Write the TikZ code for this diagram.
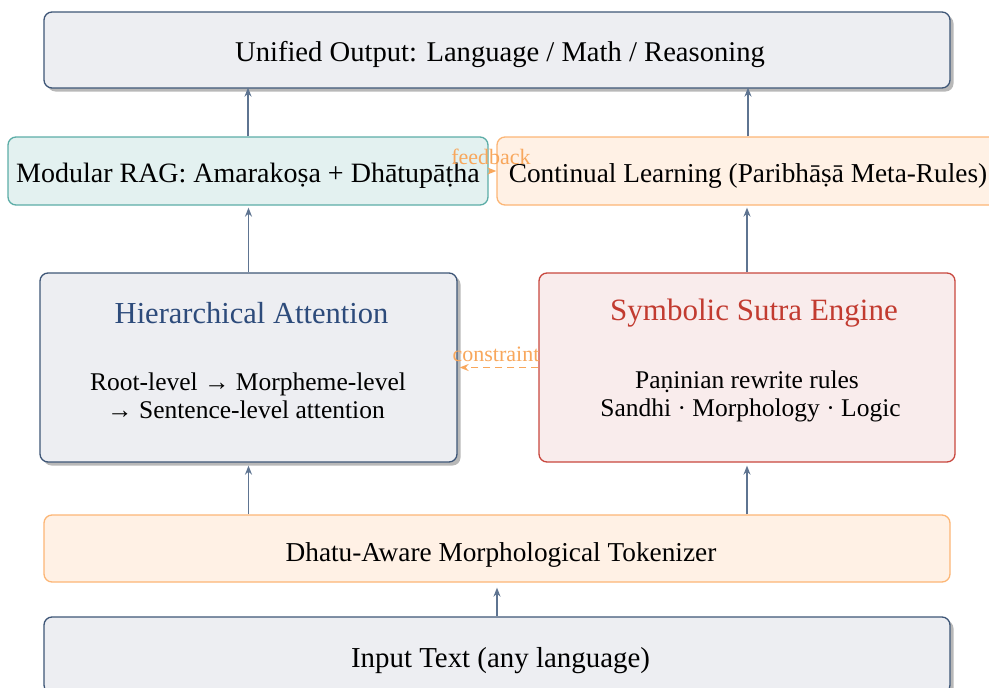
\documentclass[tikz,border=0pt]{standalone}
\usepackage{fontspec}
\setmainfont{Liberation Serif}
\usetikzlibrary{arrows.meta,shadows}

\definecolor{slateFill}{HTML}{EDEEF2}
\definecolor{slateLine}{HTML}{3E5677}
\definecolor{arrowLine}{HTML}{5E7491}
\definecolor{tealFill}{HTML}{E3F1F0}
\definecolor{tealLine}{HTML}{5CADA7}
\definecolor{orangeFill}{HTML}{FFF1E5}
\definecolor{orangeLine}{HTML}{FCB676}
\definecolor{orangeText}{HTML}{F8A75C}
\definecolor{pinkFill}{HTML}{F9ECEC}
\definecolor{redLine}{HTML}{C8473E}
\definecolor{titleBlue}{HTML}{2D4B7B}
\definecolor{titleRed}{HTML}{C23B30}

\newcommand{\fsz}[1]{\fontsize{#1}{#1}\selectfont}

\tikzset{
  box/.style={draw, rounded corners=8pt, line width=1.3pt, inner sep=0pt},
  slatebox/.style={box, draw=slateLine, fill=slateFill,
    drop shadow={shadow xshift=3.5pt, shadow yshift=-3.5pt, fill=black!28, opacity=1}},
  tealbox/.style={box, draw=tealLine, fill=tealFill},
  orangebox/.style={box, draw=orangeLine, fill=orangeFill},
  redbox/.style={box, draw=redLine, fill=pinkFill},
  txt/.style={anchor=base, inner sep=0pt},
  arr/.style={draw=arrowLine, line width=1.8pt, -{Stealth[length=9pt,width=7pt]}},
  linkarr/.style={draw=orangeText, line width=1.8pt, -{Stealth[length=9pt,width=7pt]}},
  linklabel/.style={txt, text=orangeText, font=\fsz{22}},
}

\begin{document}
\begin{tikzpicture}[x=1pt,y=-1pt]
  \useasboundingbox (0,0) rectangle (989,688);
  \clip (0,0) rectangle (989,688);

  % layer frames, top to bottom
  \node[slatebox, minimum width=906pt, minimum height=76pt] (top) at (497,50) {};
  \node[tealbox, minimum width=480pt, minimum height=68pt] (rag) at (248,171) {};
  \node[orangebox, minimum width=502pt, minimum height=68pt] (cont) at (748,171) {};
  \node[slatebox, minimum width=417pt, minimum height=189pt] (hier) at (248.5,367.5) {};
  \node[redbox, minimum width=416pt, minimum height=189pt] (sym) at (747,367.5) {};
  \node[orangebox, minimum width=906pt, minimum height=67pt] (tok) at (497,548.5) {};
  \node[slatebox, minimum width=906pt, minimum height=76pt] (inp) at (497,655) {};

  % layer captions
  \node[txt, font=\fsz{28.6}] (toptext) at (500,61.5)
    {Unified Output: Language / Math / Reasoning};
  \node[txt, font=\fsz{28}] (ragtext) at (248,182.5)
    {Modular RAG: Amarakoṣa + Dhātupāṭha};
  \node[txt, font=\fsz{27.3}] (conttext) at (748,182.5)
    {Continual Learning (Paribhāṣā Meta-Rules)};
  \node[txt, font=\fsz{27.3}] (toktext) at (501,561.5)
    {Dhatu-Aware Morphological Tokenizer};
  \node[txt, font=\fsz{28.9}] (inptext) at (500.5,667.5)
    {Input Text (any language)};

  % contents of the two engine boxes
  \node[txt, font=\fsz{30.5}, text=titleBlue] (hiertitle) at (251.5,323) {Hierarchical Attention};
  \node[txt, font=\fsz{25.5}] (hierline1) at (248,390.5) {Root-level → Morpheme-level};
  \node[txt, font=\fsz{25.5}] (hierline2) at (246,418.5) {→ Sentence-level attention};
  \node[txt, font=\fsz{31}, text=titleRed] (symtitle) at (754,320) {Symbolic Sutra Engine};
  \node[txt, font=\fsz{25.5}] (symline1) at (747,388.5) {Paṇinian rewrite rules};
  \node[txt, font=\fsz{25.5}] (symline2) at (750.5,416.5) {Sandhi · Morphology · Logic};

  % upward data flow
  \draw[arr, shorten >=5pt] (inp.north) -- (tok.south);
  \draw[arr, shorten >=3pt] (hier.south |- tok.north) -- (hier.south);
  \draw[arr, shorten >=3pt] (sym.south |- tok.north) -- (sym.south);
  \draw[arr, shorten >=2pt] (hier.north) -- (hier.north |- rag.south);
  \draw[arr, shorten >=2pt] (sym.north) -- (sym.north |- cont.south);
  \draw[arr, shorten >=-1pt] (rag.north) -- (rag.north |- top.south);
  \draw[arr, shorten >=-1pt] (cont.north) -- (cont.north |- top.south);

  % side links
  \draw[linkarr] (rag.east) -- (cont.west);
  \node[linklabel] (fblabel) at (491,164) {feedback};
  \draw[linkarr, dash pattern=on 7pt off 5pt, shorten >=2pt] (sym.west) -- (hier.east);
  \node[linklabel] (cnlabel) at (496,361) {constraint};
\end{tikzpicture}
\end{document}
